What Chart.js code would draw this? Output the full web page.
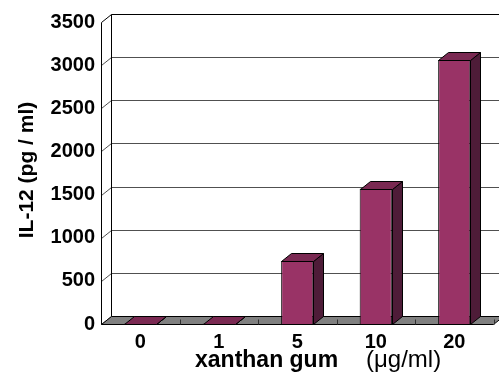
<!DOCTYPE html>
<html><head><meta charset="utf-8">
<script src="https://cdn.jsdelivr.net/npm/chart.js@4.4.0/dist/chart.umd.min.js"></script>
<style>html,body{margin:0;padding:0;background:#fff}#wrap{width:499px;height:375px}</style>
</head><body><div id="wrap"><canvas id="c" width="499" height="375"></canvas></div>
<script>
const categories = ['0', '1', '5', '10', '20'];
const il12 = [5, 5, 730, 1570, 3060];
const yTicks = [0, 500, 1000, 1500, 2000, 2500, 3000, 3500];
const yTitle = 'IL-12 (pg / ml)';
const xTitleMain = 'xanthan gum';
const xTitleUnit = '(\u03bcg/ml)';

const DX = 10, DY = -8;
const FRONT = '#993366', TOP = '#7a2952', SIDE = '#4e1c38';

const threeD = {
  id: 'threeD',
  beforeDatasetsDraw(chart) {
    const { ctx, chartArea: a, scales: { x, y } } = chart;
    ctx.save();
    ctx.lineWidth = 1;
    const L = Math.round(a.left) + 0.5;
    yTicks.forEach((v, i) => {
      const py = Math.round(y.getPixelForValue(v)) + 0.5;
      ctx.strokeStyle = (i === yTicks.length - 1) ? '#000' : '#505050';
      ctx.beginPath();
      ctx.moveTo(L, py);
      ctx.lineTo(L + DX, py + DY);
      ctx.lineTo(chart.width + 20, py + DY);
      ctx.stroke();
    });
    const yTop = Math.round(y.getPixelForValue(yTicks[yTicks.length - 1])) + 0.5;
    const y0 = Math.round(y.getPixelForValue(0)) + 0.5;
    ctx.strokeStyle = '#000';
    ctx.beginPath();
    ctx.moveTo(L, y0); ctx.lineTo(L, yTop);
    ctx.moveTo(L + DX, y0 + DY); ctx.lineTo(L + DX, yTop + DY);
    ctx.stroke();
    const R = a.right;
    ctx.fillStyle = '#808080';
    ctx.beginPath();
    ctx.moveTo(L, y0); ctx.lineTo(R, y0); ctx.lineTo(R + DX, y0 + DY); ctx.lineTo(L + DX, y0 + DY); ctx.closePath();
    ctx.fill();
    ctx.strokeStyle = '#000';
    ctx.stroke();
    ctx.strokeStyle = '#303030';
    for (let i = 1; i <= categories.length; i++) {
      const px = Math.round(a.left + (a.right - a.left) * i / categories.length) + 0.5;
      ctx.beginPath();
      ctx.moveTo(px, y0 - 5); ctx.lineTo(px, y0);
      ctx.stroke();
    }
    ctx.restore();
  },
  afterDatasetsDraw(chart) {
    const { ctx } = chart;
    const meta = chart.getDatasetMeta(0);
    ctx.save();
    ctx.lineWidth = 1;
    ctx.strokeStyle = '#000';
    meta.data.forEach(bar => {
      const p = bar.getProps(['x', 'y', 'base', 'width'], true);
      const l = Math.round(p.x - p.width / 2) + 0.5, r = Math.round(p.x + p.width / 2) + 0.5;
      const t = Math.round(p.y) + 0.5, b = Math.round(p.base) + 0.5;
      ctx.fillStyle = SIDE;
      ctx.beginPath();
      ctx.moveTo(r, t); ctx.lineTo(r + DX, t + DY); ctx.lineTo(r + DX, b + DY); ctx.lineTo(r, b); ctx.closePath();
      ctx.fill(); ctx.stroke();
      ctx.fillStyle = TOP;
      ctx.beginPath();
      ctx.moveTo(l, t); ctx.lineTo(l + DX, t + DY); ctx.lineTo(r + DX, t + DY); ctx.lineTo(r, t); ctx.closePath();
      ctx.fill(); ctx.stroke();
    });
    ctx.restore();
  },
  afterDraw(chart) {
    const { ctx } = chart;
    ctx.save();
    ctx.fillStyle = '#000';
    ctx.textBaseline = 'alphabetic';
    ctx.textAlign = 'left';
    ctx.font = 'bold 23px "Liberation Sans", Arial, sans-serif';
    ctx.fillText(xTitleMain, 195, 367);
    ctx.font = '24px "Liberation Sans", Arial, sans-serif';
    ctx.fillText(xTitleUnit, 366, 367);
    ctx.translate(27, 170);
    ctx.rotate(-Math.PI / 2);
    ctx.textAlign = 'center';
    ctx.textBaseline = 'middle';
    ctx.font = 'bold 21px "Liberation Sans", Arial, sans-serif';
    ctx.fillText(yTitle, 0, 0);
    ctx.restore();
  }
};

new Chart(document.getElementById('c'), {
  type: 'bar',
  data: {
    labels: categories,
    datasets: [{
      data: il12,
      backgroundColor: FRONT,
      borderColor: '#000',
      borderWidth: 1,
      barPercentage: 0.41,
      categoryPercentage: 1.0
    }]
  },
  options: {
    responsive: false,
    animation: false,
    devicePixelRatio: 1,
    layout: { padding: { top: 22, right: 5.5, left: 0, bottom: 0 } },
    plugins: { legend: { display: false }, tooltip: { enabled: false } },
    scales: {
      x: {
        ticks: { color: '#000', padding: 6, font: { family: 'Liberation Sans', size: 20, weight: 'bold' } },
        grid: { display: false, drawTicks: false },
        border: { display: false },
        afterFit(s) { s.height = 51; }
      },
      y: {
        min: 0, max: 3500,
        ticks: { stepSize: 500, color: '#000', padding: 6, callback: v => String(v), font: { family: 'Liberation Sans', size: 20, weight: 'bold' } },
        grid: { display: false, drawTicks: false },
        border: { display: false },
        afterFit(s) { s.width = 101; }
      }
    }
  },
  plugins: [threeD]
});
</script>
</body></html>
